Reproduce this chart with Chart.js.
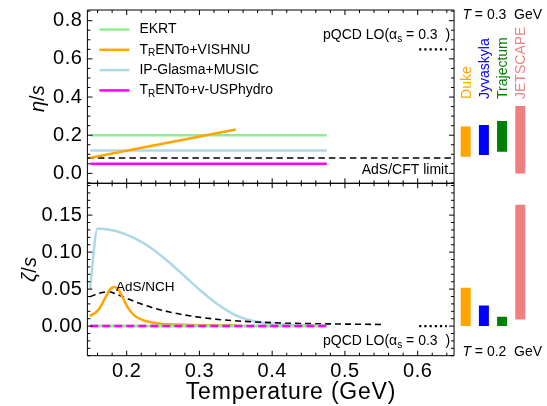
<!DOCTYPE html>
<html>
<head>
<meta charset="utf-8">
<script src="https://cdn.jsdelivr.net/npm/chart.js@4.4.0/dist/chart.umd.min.js"></script>
<style>
  html, body { margin: 0; padding: 0; background: #fff; }
  #wrap { position: relative; width: 547px; height: 406px; }
  #wrap canvas { position: absolute; left: 0; top: 0; }
</style>
</head>
<body>
<div id="wrap">
  <canvas id="etaChart" width="547" height="406"></canvas>
  <canvas id="zetaChart" width="547" height="406"></canvas>
</div>
<script>
// ---- values ----

// shear viscosity eta/s vs T (GeV)
const etaFlatT = [0.15, 0.475];
const etaEKRT = [0.2, 0.2];
const etaIPGlasma = [0.12, 0.12];
const etaUSPhydro = [0.05, 0.05];
const etaVishnuT = [0.15, 0.35];
const etaVishnu = [0.082, 0.23];
const adsCftT = [0.146, 0.65];
const adsCftLimit = [0.08, 0.08];
const pqcdT = [0.602, 0.64];
const etaPqcd = [0.65, 0.65];

// bulk viscosity zeta/s vs T (GeV)
const zetaIPGlasmaT = [0.1494, 0.16, 0.17, 0.1885, 0.2115, 0.2345, 0.2574, 0.2804, 0.3034, 0.3264, 0.3494, 0.3724, 0.395, 0.418, 0.45, 0.475];
const zetaIPGlasma = [0.0486, 0.132, 0.131, 0.1275, 0.1185, 0.105, 0.087, 0.0667, 0.0464, 0.0284, 0.0149, 0.0072, 0.0036, 0.002, 0.0012, 0.001];
const zetaVishnuT = [0.1494, 0.161, 0.17, 0.177, 0.183, 0.1885, 0.1954, 0.2023, 0.2115, 0.225, 0.2436, 0.28, 0.35];
const zetaVishnu = [0.0135, 0.0216, 0.037, 0.0496, 0.053, 0.0496, 0.037, 0.0239, 0.0135, 0.0072, 0.0036, 0.0018, 0.001];
const adsNchT = [0.1494, 0.161, 0.1747, 0.1885, 0.2115, 0.2345, 0.2574, 0.2804, 0.3264, 0.3724, 0.418, 0.464, 0.552];
const adsNch = [0.0396, 0.0441, 0.0464, 0.042, 0.0329, 0.0252, 0.0194, 0.0149, 0.009, 0.0058, 0.0041, 0.0032, 0.0022];
const zetaZeroT = [0.15, 0.475];
const zetaZero = [0, 0];
const zetaPqcd = [0, 0];

// Bayesian analyses: eta/s at T = 0.3 GeV, zeta/s at T = 0.2 GeV
const groupNames = ['Duke', 'Jyvaskyla', 'Trajectum', 'JETSCAPE'];
const etaLow = [0.087, 0.096, 0.113, 0.0];
const etaHigh = [0.245, 0.253, 0.274, 0.353];
const zetaLow = [0.0, 0.0, 0.0, 0.009];
const zetaHigh = [0.052, 0.028, 0.0126, 0.164];

const xTicks = [0.2, 0.3, 0.4, 0.5, 0.6];
const etaTicks = [0.0, 0.2, 0.4, 0.6, 0.8];
const zetaTicks = [0.0, 0.05, 0.10, 0.15];

// ---- styling ----
const FONT = '"Liberation Sans", Arial, Helvetica, sans-serif';
const groupColors = ['#FFA500', '#0000FF', '#008000', '#F08080'];
const X_MIN = 0.146, X_EDGE = 0.65, X_MAX = 0.775;
const groupX = groupNames.map((_, i) => 0.666 + i * 0.025);

Chart.defaults.font.family = FONT;
Chart.defaults.color = '#000';

function pts(xs, ys) {
  return xs.map((x, i) => ({ x: x, y: ys[i] }));
}

function line(xs, ys, color, width, dash) {
  return {
    data: pts(xs, ys),
    borderColor: color,
    borderWidth: width,
    borderDash: dash || [],
    pointRadius: 0,
    fill: false,
    cubicInterpolationMode: 'monotone'
  };
}

function bars(low, high) {
  return groupNames.map((_, i) => ({
    data: [{ x: groupX[i], y: low[i] }, { x: groupX[i], y: high[i] }],
    borderColor: groupColors[i],
    borderWidth: 10,
    borderCapStyle: 'butt',
    pointRadius: 0
  }));
}

function drawRich(ctx, parts, x, y, size, align, spacing) {
  // parts: [text, kind] with kind '' | 'it' | 'sub'
  const fontFor = k => (k === 'it' ? 'italic ' : '') + (k === 'sub' ? Math.round(size * 0.68) : size) + 'px ' + FONT;
  ctx.letterSpacing = (spacing || 0) + 'px';
  let w = 0;
  parts.forEach(([t, k]) => { ctx.font = fontFor(k); w += ctx.measureText(t).width; });
  let cx = align === 'right' ? x - w : align === 'center' ? x - w / 2 : x;
  ctx.textAlign = 'left';
  ctx.textBaseline = 'middle';
  parts.forEach(([t, k]) => {
    ctx.font = fontFor(k);
    ctx.fillText(t, cx, k === 'sub' ? y + size * 0.28 : y);
    cx += ctx.measureText(t).width;
  });
  ctx.letterSpacing = '0px';
}

// Mathematica-like frame with inward ticks on every side
const framePlugin = {
  id: 'frame',
  beforeDraw(chart) {
    // slightly wider tick labels, like the original's Helvetica
    chart.ctx.letterSpacing = '0.5px';
  },
  afterDatasetsDraw(chart, args, opts) {
    const { ctx, chartArea: a, scales: { x, y } } = chart;
    const xl = a.left, xr = x.getPixelForValue(X_EDGE), yt = a.top, yb = a.bottom;
    ctx.save();
    ctx.strokeStyle = '#000';
    ctx.lineWidth = 1;
    ctx.beginPath();
    ctx.moveTo(xl, yt); ctx.lineTo(xr, yt);
    ctx.moveTo(xl, yb); ctx.lineTo(xr, yb);
    ctx.moveTo(xl, yt); ctx.lineTo(xl, yb);
    ctx.moveTo(xr, yt); ctx.lineTo(xr, yb);
    for (let i = 8; i <= 32; i++) {
      const px = x.getPixelForValue(i * 0.02);
      const len = i % 5 === 0 ? 5 : 3;
      ctx.moveTo(px, yt); ctx.lineTo(px, yt + len);
      ctx.moveTo(px, yb); ctx.lineTo(px, yb - len);
    }
    for (let i = opts.yFrom; i <= opts.yTo; i++) {
      const py = y.getPixelForValue(i * opts.yStep);
      if (py < yt - 0.5 || py > yb + 0.5) continue;
      const len = i % opts.yEvery === 0 ? 5 : 3;
      ctx.moveTo(xl, py); ctx.lineTo(xl + len, py);
      ctx.moveTo(xr, py); ctx.lineTo(xr - len, py);
    }
    ctx.stroke();
    ctx.restore();
  },
  afterDraw(chart, args, opts) {
    if (opts.labels) opts.labels(chart);
  }
};

function yAxis(min, max, ticks, digits) {
  return {
    type: 'linear', min: min, max: max,
    grid: { display: false, drawTicks: false },
    border: { display: false },
    afterBuildTicks: axis => { axis.ticks = ticks.map(v => ({ value: v })); },
    afterFit: axis => { axis.width = 87.4; axis.paddingTop = 0; axis.paddingBottom = 0; },
    ticks: { font: { size: 20 }, padding: 5, callback: v => Number(v).toFixed(digits) }
  };
}

function xAxis(show) {
  return {
    type: 'linear', min: X_MIN, max: X_MAX, display: show,
    grid: { display: false, drawTicks: false },
    border: { display: false },
    afterBuildTicks: axis => { axis.ticks = xTicks.map(v => ({ value: v })); },
    afterFit: axis => {
      if (!show) return;
      axis.height = 50.3; axis.paddingLeft = 0; axis.paddingRight = 0;
    },
    ticks: { font: { size: 20 }, padding: 4, maxRotation: 0, autoSkip: false, callback: v => Number(v).toFixed(1) }
  };
}

function drawGroupLabels(ctx, x, py) {
  ctx.save();
  ctx.letterSpacing = '0px';
  ctx.font = '14px ' + FONT;
  ctx.textAlign = 'left';
  ctx.textBaseline = 'middle';
  groupNames.forEach((name, i) => {
    ctx.save();
    ctx.translate(x.getPixelForValue(groupX[i]) + 1, py);
    ctx.rotate(-Math.PI / 2);
    ctx.fillStyle = groupColors[i];
    ctx.fillText(name, 0, 0);
    ctx.restore();
  });
  ctx.restore();
}

function drawTemp(ctx, chart, tval, py) {
  const a = chart.chartArea;
  ctx.fillStyle = '#000';
  drawRich(ctx, [['T', 'it'], [' = ' + tval, '']], a.left + 375, py, 14, 'left');
  drawRich(ctx, [['GeV', '']], a.right - 3, py, 14, 'right');
}

const pqcdText = [['pQCD LO(α', ''], ['s', 'sub'], [' = 0.3  )', '']];

// ---- eta/s panel ----
new Chart(document.getElementById('etaChart'), {
  type: 'line',
  data: {
    datasets: [
      line(etaFlatT, etaUSPhydro, '#FF00FF', 2.5),
      line(etaVishnuT, etaVishnu, '#FFA500', 2.5),
      line(adsCftT, adsCftLimit, '#000', 1.5, [6.5, 4]),
      line(etaFlatT, etaIPGlasma, '#ADD8E6', 2.5),
      line(etaFlatT, etaEKRT, '#90EE90', 2.5),
      line(pqcdT, etaPqcd, '#000', 2.2, [2.2, 3]),
      ...bars(etaLow, etaHigh)
    ]
  },
  options: {
    responsive: false,
    animation: false,
    events: [],
    layout: { padding: { left: 0, right: 2, top: 10, bottom: 222.7 } },
    scales: { x: xAxis(false), y: yAxis(-0.052, 0.856, etaTicks, 1) },
    plugins: {
      legend: { display: false },
      tooltip: { enabled: false },
      frame: {
        yFrom: -1, yTo: 17, yStep: 0.05, yEvery: 4,
        labels: chart => {
          const { ctx, chartArea: a, scales: { x, y } } = chart;
          ctx.save();
          // legend
          const entries = [
            [[['EKRT', '']], '#90EE90'],
            [[['T', ''], ['R', 'sub'], ['ENTo+VISHNU', '']], '#FFA500'],
            [[['IP-Glasma+MUSIC', '']], '#ADD8E6'],
            [[['T', ''], ['R', 'sub'], ['ENTo+v-USPhydro', '']], '#FF00FF']
          ];
          entries.forEach(([parts, color], i) => {
            const py = a.top + 19.5 + i * 20.3;
            ctx.strokeStyle = color;
            ctx.lineWidth = 2.5;
            ctx.beginPath();
            ctx.moveTo(a.left + 12, py); ctx.lineTo(a.left + 42, py);
            ctx.stroke();
            ctx.fillStyle = '#000';
            drawRich(ctx, parts, a.left + 52, py, 14, 'left');
          });
          ctx.fillStyle = '#000';
          drawRich(ctx, pqcdText, x.getPixelForValue(X_EDGE) - 4, y.getPixelForValue(0.725), 14, 'right');
          drawRich(ctx, [['AdS/CFT limit', '']], x.getPixelForValue(X_EDGE) - 6, y.getPixelForValue(0.018), 14, 'right');
          drawTemp(ctx, chart, '0.3', a.top + 5);
          drawGroupLabels(ctx, x, y.getPixelForValue(0.39));
          // y title
          ctx.save();
          ctx.translate(38, (a.top + a.bottom) / 2 + 2);
          ctx.rotate(-Math.PI / 2);
          drawRich(ctx, [['η', 'it'], ['/', ''], ['s', 'it']], 0, 0, 20, 'center');
          ctx.restore();
          ctx.restore();
        }
      }
    }
  },
  plugins: [framePlugin]
});

// ---- zeta/s panel ----
new Chart(document.getElementById('zetaChart'), {
  type: 'line',
  data: {
    datasets: [
      line(zetaZeroT, zetaZero, '#FF00FF', 2.5, [8, 4]),
      line(zetaZeroT, zetaZero, '#90EE90', 3),
      line(zetaVishnuT, zetaVishnu, '#FFA500', 2.5),
      line(adsNchT, adsNch, '#000', 1.6, [6, 4]),
      line(zetaIPGlasmaT, zetaIPGlasma, '#ADD8E6', 2.5),
      line(pqcdT, zetaPqcd, '#000', 2.2, [2.2, 3]),
      ...bars(zetaLow, zetaHigh)
    ]
  },
  options: {
    responsive: false,
    animation: false,
    events: [],
    layout: { padding: { left: 0, right: 2, top: 183.3, bottom: 0 } },
    scales: { x: xAxis(true), y: yAxis(-0.04, 0.193, zetaTicks, 2) },
    plugins: {
      legend: { display: false },
      tooltip: { enabled: false },
      frame: {
        yFrom: -4, yTo: 19, yStep: 0.01, yEvery: 5,
        labels: chart => {
          const { ctx, chartArea: a, scales: { x, y } } = chart;
          ctx.save();
          ctx.fillStyle = '#000';
          drawRich(ctx, [['AdS/NCH', '']], x.getPixelForValue(0.1853), y.getPixelForValue(0.0523), 13.5, 'left');
          drawRich(ctx, pqcdText, x.getPixelForValue(X_EDGE) - 4, y.getPixelForValue(-0.0203), 14, 'right');
          drawTemp(ctx, chart, '0.2', y.getPixelForValue(-0.0348));
          drawRich(ctx, [['Temperature (GeV)', '']], 291, a.bottom + 37, 23, 'center', 0.8);
          ctx.save();
          ctx.translate(30, (a.top + a.bottom) / 2);
          ctx.rotate(-Math.PI / 2);
          drawRich(ctx, [['ζ', 'it'], ['/', ''], ['s', 'it']], 0, 0, 20, 'center');
          ctx.restore();
          ctx.restore();
        }
      }
    }
  },
  plugins: [framePlugin]
});
</script>
</body>
</html>
